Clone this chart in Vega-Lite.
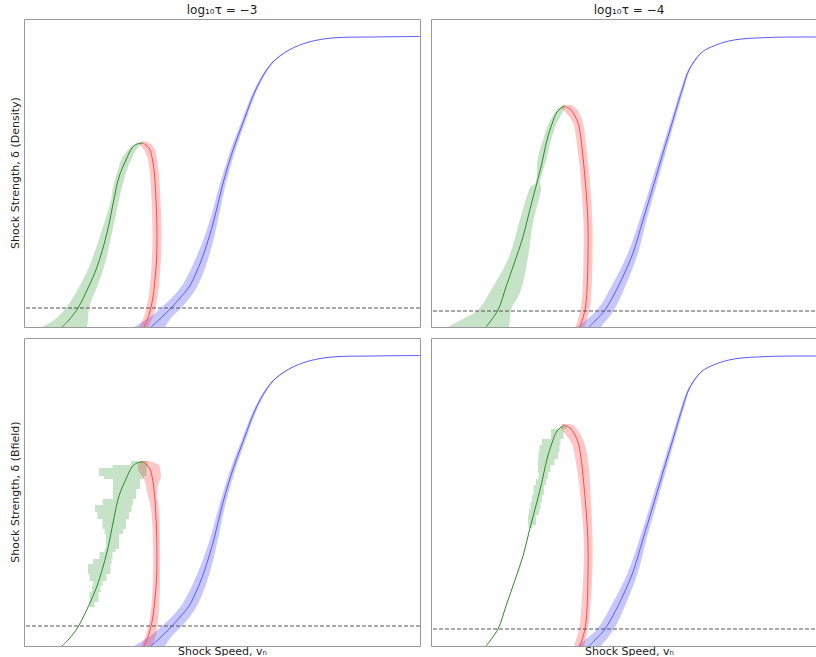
{
  "$schema": "https://vega.github.io/schema/vega-lite/v6.json",
  "padding": {"left": 9, "top": 4, "right": 0, "bottom": 0},
  "background": "white",
  "data": {
    "values": [
      {"t": -3, "q": "Density", "k": "line", "s": "fast", "v": 1.27, "d": 0},
      {"t": -3, "q": "Density", "k": "line", "s": "fast", "v": 1.36, "d": 0.08},
      {"t": -3, "q": "Density", "k": "line", "s": "fast", "v": 1.48, "d": 0.2},
      {"t": -3, "q": "Density", "k": "line", "s": "fast", "v": 1.56, "d": 0.29},
      {"t": -3, "q": "Density", "k": "line", "s": "fast", "v": 1.65, "d": 0.4},
      {"t": -3, "q": "Density", "k": "line", "s": "fast", "v": 1.725, "d": 0.55},
      {"t": -3, "q": "Density", "k": "line", "s": "fast", "v": 1.8, "d": 0.74},
      {"t": -3, "q": "Density", "k": "line", "s": "fast", "v": 1.9, "d": 1.07},
      {"t": -3, "q": "Density", "k": "line", "s": "fast", "v": 1.98, "d": 1.4},
      {"t": -3, "q": "Density", "k": "line", "s": "fast", "v": 2.08, "d": 1.74},
      {"t": -3, "q": "Density", "k": "line", "s": "fast", "v": 2.2, "d": 2.07},
      {"t": -3, "q": "Density", "k": "line", "s": "fast", "v": 2.33, "d": 2.4},
      {"t": -3, "q": "Density", "k": "line", "s": "fast", "v": 2.48, "d": 2.64},
      {"t": -3, "q": "Density", "k": "line", "s": "fast", "v": 2.65, "d": 2.77},
      {"t": -3, "q": "Density", "k": "line", "s": "fast", "v": 2.85, "d": 2.85},
      {"t": -3, "q": "Density", "k": "line", "s": "fast", "v": 3.08, "d": 2.89},
      {"t": -3, "q": "Density", "k": "line", "s": "fast", "v": 3.48, "d": 2.9},
      {"t": -3, "q": "Density", "k": "line", "s": "fast", "v": 3.96, "d": 2.905},
      {"t": -3, "q": "Density", "k": "line", "s": "intermediate", "v": 1.2, "d": 0},
      {"t": -3, "q": "Density", "k": "line", "s": "intermediate", "v": 1.25, "d": 0.12},
      {"t": -3, "q": "Density", "k": "line", "s": "intermediate", "v": 1.285, "d": 0.27},
      {"t": -3, "q": "Density", "k": "line", "s": "intermediate", "v": 1.31, "d": 0.47},
      {"t": -3, "q": "Density", "k": "line", "s": "intermediate", "v": 1.325, "d": 0.67},
      {"t": -3, "q": "Density", "k": "line", "s": "intermediate", "v": 1.33, "d": 0.87},
      {"t": -3, "q": "Density", "k": "line", "s": "intermediate", "v": 1.328, "d": 1.07},
      {"t": -3, "q": "Density", "k": "line", "s": "intermediate", "v": 1.32, "d": 1.27},
      {"t": -3, "q": "Density", "k": "line", "s": "intermediate", "v": 1.305, "d": 1.52},
      {"t": -3, "q": "Density", "k": "line", "s": "intermediate", "v": 1.285, "d": 1.67},
      {"t": -3, "q": "Density", "k": "line", "s": "intermediate", "v": 1.26, "d": 1.77},
      {"t": -3, "q": "Density", "k": "line", "s": "intermediate", "v": 1.23, "d": 1.81},
      {"t": -3, "q": "Density", "k": "line", "s": "intermediate", "v": 1.19, "d": 1.84},
      {"t": -3, "q": "Density", "k": "line", "s": "slow", "v": 0.38, "d": 0},
      {"t": -3, "q": "Density", "k": "line", "s": "slow", "v": 0.45, "d": 0.07},
      {"t": -3, "q": "Density", "k": "line", "s": "slow", "v": 0.54, "d": 0.19},
      {"t": -3, "q": "Density", "k": "line", "s": "slow", "v": 0.645, "d": 0.4},
      {"t": -3, "q": "Density", "k": "line", "s": "slow", "v": 0.73, "d": 0.6},
      {"t": -3, "q": "Density", "k": "line", "s": "slow", "v": 0.83, "d": 0.94},
      {"t": -3, "q": "Density", "k": "line", "s": "slow", "v": 0.9, "d": 1.28},
      {"t": -3, "q": "Density", "k": "line", "s": "slow", "v": 0.95, "d": 1.5},
      {"t": -3, "q": "Density", "k": "line", "s": "slow", "v": 1.02, "d": 1.67},
      {"t": -3, "q": "Density", "k": "line", "s": "slow", "v": 1.08, "d": 1.79},
      {"t": -3, "q": "Density", "k": "line", "s": "slow", "v": 1.13, "d": 1.83},
      {"t": -3, "q": "Density", "k": "line", "s": "slow", "v": 1.19, "d": 1.84},
      {"t": -3, "q": "Density", "k": "band", "s": "fast", "d": 0, "lo": 1.1, "hi": 1.41},
      {"t": -3, "q": "Density", "k": "band", "s": "fast", "d": 0.1, "lo": 1.26, "hi": 1.48},
      {"t": -3, "q": "Density", "k": "band", "s": "fast", "d": 0.2, "lo": 1.38, "hi": 1.58},
      {"t": -3, "q": "Density", "k": "band", "s": "fast", "d": 0.4, "lo": 1.57, "hi": 1.73},
      {"t": -3, "q": "Density", "k": "band", "s": "fast", "d": 0.74, "lo": 1.74, "hi": 1.86},
      {"t": -3, "q": "Density", "k": "band", "s": "fast", "d": 1.07, "lo": 1.86, "hi": 1.94},
      {"t": -3, "q": "Density", "k": "band", "s": "fast", "d": 1.4, "lo": 1.95, "hi": 2.01},
      {"t": -3, "q": "Density", "k": "band", "s": "fast", "d": 1.74, "lo": 2.055, "hi": 2.105},
      {"t": -3, "q": "Density", "k": "band", "s": "fast", "d": 2.07, "lo": 2.18, "hi": 2.22},
      {"t": -3, "q": "Density", "k": "band", "s": "fast", "d": 2.4, "lo": 2.315, "hi": 2.345},
      {"t": -3, "q": "Density", "k": "band", "s": "fast", "d": 2.64, "lo": 2.47, "hi": 2.49},
      {"t": -3, "q": "Density", "k": "band", "s": "fast", "d": 2.77, "lo": 2.645, "hi": 2.655},
      {"t": -3, "q": "Density", "k": "band", "s": "intermediate", "d": 0, "lo": 1.155, "hi": 1.245},
      {"t": -3, "q": "Density", "k": "band", "s": "intermediate", "d": 0.12, "lo": 1.205, "hi": 1.295},
      {"t": -3, "q": "Density", "k": "band", "s": "intermediate", "d": 0.27, "lo": 1.24, "hi": 1.33},
      {"t": -3, "q": "Density", "k": "band", "s": "intermediate", "d": 0.47, "lo": 1.265, "hi": 1.355},
      {"t": -3, "q": "Density", "k": "band", "s": "intermediate", "d": 0.87, "lo": 1.285, "hi": 1.375},
      {"t": -3, "q": "Density", "k": "band", "s": "intermediate", "d": 1.27, "lo": 1.275, "hi": 1.365},
      {"t": -3, "q": "Density", "k": "band", "s": "intermediate", "d": 1.52, "lo": 1.26, "hi": 1.35},
      {"t": -3, "q": "Density", "k": "band", "s": "intermediate", "d": 1.67, "lo": 1.24, "hi": 1.33},
      {"t": -3, "q": "Density", "k": "band", "s": "intermediate", "d": 1.77, "lo": 1.2, "hi": 1.31},
      {"t": -3, "q": "Density", "k": "band", "s": "intermediate", "d": 1.83, "lo": 1.15, "hi": 1.27},
      {"t": -3, "q": "Density", "k": "band", "s": "intermediate", "d": 1.855, "lo": 1.16, "hi": 1.22},
      {"t": -3, "q": "Density", "k": "band", "s": "slow", "d": 0, "lo": 0.18, "hi": 0.63},
      {"t": -3, "q": "Density", "k": "band", "s": "slow", "d": 0.07, "lo": 0.3, "hi": 0.64},
      {"t": -3, "q": "Density", "k": "band", "s": "slow", "d": 0.19, "lo": 0.42, "hi": 0.65},
      {"t": -3, "q": "Density", "k": "band", "s": "slow", "d": 0.4, "lo": 0.55, "hi": 0.73},
      {"t": -3, "q": "Density", "k": "band", "s": "slow", "d": 0.6, "lo": 0.65, "hi": 0.8},
      {"t": -3, "q": "Density", "k": "band", "s": "slow", "d": 0.94, "lo": 0.77, "hi": 0.88},
      {"t": -3, "q": "Density", "k": "band", "s": "slow", "d": 1.27, "lo": 0.87, "hi": 0.95},
      {"t": -3, "q": "Density", "k": "band", "s": "slow", "d": 1.4, "lo": 0.89, "hi": 0.98},
      {"t": -3, "q": "Density", "k": "band", "s": "slow", "d": 1.6, "lo": 0.95, "hi": 1.04},
      {"t": -3, "q": "Density", "k": "band", "s": "slow", "d": 1.67, "lo": 0.97, "hi": 1.07},
      {"t": -3, "q": "Density", "k": "band", "s": "slow", "d": 1.77, "lo": 1.04, "hi": 1.12},
      {"t": -3, "q": "Density", "k": "band", "s": "slow", "d": 1.82, "lo": 1.09, "hi": 1.16},
      {"t": -3, "q": "Density", "k": "band", "s": "slow", "d": 1.84, "lo": 1.14, "hi": 1.19},
      {"t": -3, "q": "Density", "k": "ref", "d": 0.19},

      {"t": -3, "q": "Bfield", "k": "line", "s": "fast", "v": 1.27, "d": 0},
      {"t": -3, "q": "Bfield", "k": "line", "s": "fast", "v": 1.36, "d": 0.08},
      {"t": -3, "q": "Bfield", "k": "line", "s": "fast", "v": 1.48, "d": 0.2},
      {"t": -3, "q": "Bfield", "k": "line", "s": "fast", "v": 1.56, "d": 0.29},
      {"t": -3, "q": "Bfield", "k": "line", "s": "fast", "v": 1.65, "d": 0.4},
      {"t": -3, "q": "Bfield", "k": "line", "s": "fast", "v": 1.725, "d": 0.55},
      {"t": -3, "q": "Bfield", "k": "line", "s": "fast", "v": 1.8, "d": 0.74},
      {"t": -3, "q": "Bfield", "k": "line", "s": "fast", "v": 1.9, "d": 1.07},
      {"t": -3, "q": "Bfield", "k": "line", "s": "fast", "v": 1.98, "d": 1.4},
      {"t": -3, "q": "Bfield", "k": "line", "s": "fast", "v": 2.08, "d": 1.74},
      {"t": -3, "q": "Bfield", "k": "line", "s": "fast", "v": 2.2, "d": 2.07},
      {"t": -3, "q": "Bfield", "k": "line", "s": "fast", "v": 2.33, "d": 2.4},
      {"t": -3, "q": "Bfield", "k": "line", "s": "fast", "v": 2.48, "d": 2.64},
      {"t": -3, "q": "Bfield", "k": "line", "s": "fast", "v": 2.65, "d": 2.77},
      {"t": -3, "q": "Bfield", "k": "line", "s": "fast", "v": 2.85, "d": 2.85},
      {"t": -3, "q": "Bfield", "k": "line", "s": "fast", "v": 3.08, "d": 2.89},
      {"t": -3, "q": "Bfield", "k": "line", "s": "fast", "v": 3.48, "d": 2.9},
      {"t": -3, "q": "Bfield", "k": "line", "s": "fast", "v": 3.96, "d": 2.905},
      {"t": -3, "q": "Bfield", "k": "line", "s": "intermediate", "v": 1.2, "d": 0},
      {"t": -3, "q": "Bfield", "k": "line", "s": "intermediate", "v": 1.25, "d": 0.12},
      {"t": -3, "q": "Bfield", "k": "line", "s": "intermediate", "v": 1.285, "d": 0.27},
      {"t": -3, "q": "Bfield", "k": "line", "s": "intermediate", "v": 1.31, "d": 0.47},
      {"t": -3, "q": "Bfield", "k": "line", "s": "intermediate", "v": 1.325, "d": 0.67},
      {"t": -3, "q": "Bfield", "k": "line", "s": "intermediate", "v": 1.33, "d": 0.87},
      {"t": -3, "q": "Bfield", "k": "line", "s": "intermediate", "v": 1.328, "d": 1.07},
      {"t": -3, "q": "Bfield", "k": "line", "s": "intermediate", "v": 1.32, "d": 1.27},
      {"t": -3, "q": "Bfield", "k": "line", "s": "intermediate", "v": 1.305, "d": 1.52},
      {"t": -3, "q": "Bfield", "k": "line", "s": "intermediate", "v": 1.285, "d": 1.67},
      {"t": -3, "q": "Bfield", "k": "line", "s": "intermediate", "v": 1.26, "d": 1.77},
      {"t": -3, "q": "Bfield", "k": "line", "s": "intermediate", "v": 1.23, "d": 1.81},
      {"t": -3, "q": "Bfield", "k": "line", "s": "intermediate", "v": 1.19, "d": 1.84},
      {"t": -3, "q": "Bfield", "k": "line", "s": "slow", "v": 0.38, "d": 0},
      {"t": -3, "q": "Bfield", "k": "line", "s": "slow", "v": 0.45, "d": 0.07},
      {"t": -3, "q": "Bfield", "k": "line", "s": "slow", "v": 0.54, "d": 0.19},
      {"t": -3, "q": "Bfield", "k": "line", "s": "slow", "v": 0.645, "d": 0.4},
      {"t": -3, "q": "Bfield", "k": "line", "s": "slow", "v": 0.73, "d": 0.6},
      {"t": -3, "q": "Bfield", "k": "line", "s": "slow", "v": 0.83, "d": 0.94},
      {"t": -3, "q": "Bfield", "k": "line", "s": "slow", "v": 0.9, "d": 1.28},
      {"t": -3, "q": "Bfield", "k": "line", "s": "slow", "v": 0.95, "d": 1.5},
      {"t": -3, "q": "Bfield", "k": "line", "s": "slow", "v": 1.02, "d": 1.67},
      {"t": -3, "q": "Bfield", "k": "line", "s": "slow", "v": 1.08, "d": 1.79},
      {"t": -3, "q": "Bfield", "k": "line", "s": "slow", "v": 1.13, "d": 1.83},
      {"t": -3, "q": "Bfield", "k": "line", "s": "slow", "v": 1.19, "d": 1.84},
      {"t": -3, "q": "Bfield", "k": "band", "s": "fast", "d": 0, "lo": 1.1, "hi": 1.41},
      {"t": -3, "q": "Bfield", "k": "band", "s": "fast", "d": 0.1, "lo": 1.26, "hi": 1.48},
      {"t": -3, "q": "Bfield", "k": "band", "s": "fast", "d": 0.2, "lo": 1.38, "hi": 1.58},
      {"t": -3, "q": "Bfield", "k": "band", "s": "fast", "d": 0.4, "lo": 1.57, "hi": 1.73},
      {"t": -3, "q": "Bfield", "k": "band", "s": "fast", "d": 0.74, "lo": 1.74, "hi": 1.86},
      {"t": -3, "q": "Bfield", "k": "band", "s": "fast", "d": 1.07, "lo": 1.86, "hi": 1.94},
      {"t": -3, "q": "Bfield", "k": "band", "s": "fast", "d": 1.4, "lo": 1.95, "hi": 2.01},
      {"t": -3, "q": "Bfield", "k": "band", "s": "fast", "d": 1.74, "lo": 2.055, "hi": 2.105},
      {"t": -3, "q": "Bfield", "k": "band", "s": "fast", "d": 2.07, "lo": 2.18, "hi": 2.22},
      {"t": -3, "q": "Bfield", "k": "band", "s": "fast", "d": 2.4, "lo": 2.315, "hi": 2.345},
      {"t": -3, "q": "Bfield", "k": "band", "s": "fast", "d": 2.64, "lo": 2.47, "hi": 2.49},
      {"t": -3, "q": "Bfield", "k": "band", "s": "fast", "d": 2.77, "lo": 2.645, "hi": 2.655},
      {"t": -3, "q": "Bfield", "k": "band", "s": "intermediate", "d": 0, "lo": 1.17, "hi": 1.28},
      {"t": -3, "q": "Bfield", "k": "band", "s": "intermediate", "d": 0.11, "lo": 1.22, "hi": 1.32},
      {"t": -3, "q": "Bfield", "k": "band", "s": "intermediate", "d": 0.37, "lo": 1.27, "hi": 1.35},
      {"t": -3, "q": "Bfield", "k": "band", "s": "intermediate", "d": 0.71, "lo": 1.29, "hi": 1.36},
      {"t": -3, "q": "Bfield", "k": "band", "s": "intermediate", "d": 1.04, "lo": 1.29, "hi": 1.36},
      {"t": -3, "q": "Bfield", "k": "band", "s": "intermediate", "d": 1.37, "lo": 1.27, "hi": 1.35},
      {"t": -3, "q": "Bfield", "k": "band", "s": "intermediate", "d": 1.54, "lo": 1.23, "hi": 1.33},
      {"t": -3, "q": "Bfield", "k": "band", "s": "intermediate", "d": 1.64, "lo": 1.21, "hi": 1.35},
      {"t": -3, "q": "Bfield", "k": "band", "s": "intermediate", "d": 1.69, "lo": 1.19, "hi": 1.37},
      {"t": -3, "q": "Bfield", "k": "band", "s": "intermediate", "d": 1.74, "lo": 1.15, "hi": 1.365},
      {"t": -3, "q": "Bfield", "k": "band", "s": "intermediate", "d": 1.81, "lo": 1.14, "hi": 1.35},
      {"t": -3, "q": "Bfield", "k": "band", "s": "intermediate", "d": 1.85, "lo": 1.16, "hi": 1.25},
      {"t": -3, "q": "Bfield", "k": "blob", "s": "slow", "d": 0.39, "lo": 0.66, "hi": 0.68},
      {"t": -3, "q": "Bfield", "k": "blob", "s": "slow", "d": 0.44, "lo": 0.65, "hi": 0.73},
      {"t": -3, "q": "Bfield", "k": "blob", "s": "slow", "d": 0.54, "lo": 0.66, "hi": 0.76},
      {"t": -3, "q": "Bfield", "k": "blob", "s": "slow", "d": 0.6, "lo": 0.7, "hi": 0.77},
      {"t": -3, "q": "Bfield", "k": "blob", "s": "slow", "d": 0.65, "lo": 0.68, "hi": 0.8},
      {"t": -3, "q": "Bfield", "k": "blob", "s": "slow", "d": 0.72, "lo": 0.63, "hi": 0.85},
      {"t": -3, "q": "Bfield", "k": "blob", "s": "slow", "d": 0.82, "lo": 0.65, "hi": 0.88},
      {"t": -3, "q": "Bfield", "k": "blob", "s": "slow", "d": 0.87, "lo": 0.73, "hi": 0.87},
      {"t": -3, "q": "Bfield", "k": "blob", "s": "slow", "d": 0.94, "lo": 0.78, "hi": 0.9},
      {"t": -3, "q": "Bfield", "k": "blob", "s": "slow", "d": 0.97, "lo": 0.83, "hi": 0.93},
      {"t": -3, "q": "Bfield", "k": "blob", "s": "slow", "d": 1.12, "lo": 0.81, "hi": 0.97},
      {"t": -3, "q": "Bfield", "k": "blob", "s": "slow", "d": 1.17, "lo": 0.8, "hi": 1.01},
      {"t": -3, "q": "Bfield", "k": "blob", "s": "slow", "d": 1.27, "lo": 0.77, "hi": 1.03},
      {"t": -3, "q": "Bfield", "k": "blob", "s": "slow", "d": 1.34, "lo": 0.7, "hi": 1.07},
      {"t": -3, "q": "Bfield", "k": "blob", "s": "slow", "d": 1.41, "lo": 0.72, "hi": 1.08},
      {"t": -3, "q": "Bfield", "k": "blob", "s": "slow", "d": 1.47, "lo": 0.85, "hi": 1.1},
      {"t": -3, "q": "Bfield", "k": "blob", "s": "slow", "d": 1.57, "lo": 0.93, "hi": 1.14},
      {"t": -3, "q": "Bfield", "k": "blob", "s": "slow", "d": 1.67, "lo": 0.85, "hi": 1.18},
      {"t": -3, "q": "Bfield", "k": "blob", "s": "slow", "d": 1.7, "lo": 0.75, "hi": 1.22},
      {"t": -3, "q": "Bfield", "k": "blob", "s": "slow", "d": 1.78, "lo": 0.75, "hi": 1.23},
      {"t": -3, "q": "Bfield", "k": "blob", "s": "slow", "d": 1.81, "lo": 1.02, "hi": 1.24},
      {"t": -3, "q": "Bfield", "k": "blob", "s": "slow", "d": 1.85, "lo": 1.12, "hi": 1.23},
      {"t": -3, "q": "Bfield", "k": "ref", "d": 0.2},

      {"t": -4, "q": "Density", "k": "line", "s": "fast", "v": 1.58, "d": 0},
      {"t": -4, "q": "Density", "k": "line", "s": "fast", "v": 1.65, "d": 0.07},
      {"t": -4, "q": "Density", "k": "line", "s": "fast", "v": 1.74, "d": 0.17},
      {"t": -4, "q": "Density", "k": "line", "s": "fast", "v": 1.87, "d": 0.4},
      {"t": -4, "q": "Density", "k": "line", "s": "fast", "v": 1.94, "d": 0.55},
      {"t": -4, "q": "Density", "k": "line", "s": "fast", "v": 2.02, "d": 0.74},
      {"t": -4, "q": "Density", "k": "line", "s": "fast", "v": 2.12, "d": 1.07},
      {"t": -4, "q": "Density", "k": "line", "s": "fast", "v": 2.22, "d": 1.4},
      {"t": -4, "q": "Density", "k": "line", "s": "fast", "v": 2.32, "d": 1.74},
      {"t": -4, "q": "Density", "k": "line", "s": "fast", "v": 2.42, "d": 2.07},
      {"t": -4, "q": "Density", "k": "line", "s": "fast", "v": 2.52, "d": 2.4},
      {"t": -4, "q": "Density", "k": "line", "s": "fast", "v": 2.58, "d": 2.57},
      {"t": -4, "q": "Density", "k": "line", "s": "fast", "v": 2.7, "d": 2.74},
      {"t": -4, "q": "Density", "k": "line", "s": "fast", "v": 2.85, "d": 2.82},
      {"t": -4, "q": "Density", "k": "line", "s": "fast", "v": 3.03, "d": 2.87},
      {"t": -4, "q": "Density", "k": "line", "s": "fast", "v": 3.37, "d": 2.895},
      {"t": -4, "q": "Density", "k": "line", "s": "fast", "v": 3.96, "d": 2.9},
      {"t": -4, "q": "Density", "k": "line", "s": "intermediate", "v": 1.49, "d": 0},
      {"t": -4, "q": "Density", "k": "line", "s": "intermediate", "v": 1.54, "d": 0.17},
      {"t": -4, "q": "Density", "k": "line", "s": "intermediate", "v": 1.56, "d": 0.37},
      {"t": -4, "q": "Density", "k": "line", "s": "intermediate", "v": 1.57, "d": 0.7},
      {"t": -4, "q": "Density", "k": "line", "s": "intermediate", "v": 1.57, "d": 1.04},
      {"t": -4, "q": "Density", "k": "line", "s": "intermediate", "v": 1.55, "d": 1.37},
      {"t": -4, "q": "Density", "k": "line", "s": "intermediate", "v": 1.52, "d": 1.7},
      {"t": -4, "q": "Density", "k": "line", "s": "intermediate", "v": 1.5, "d": 1.88},
      {"t": -4, "q": "Density", "k": "line", "s": "intermediate", "v": 1.47, "d": 2.04},
      {"t": -4, "q": "Density", "k": "line", "s": "intermediate", "v": 1.4, "d": 2.17},
      {"t": -4, "q": "Density", "k": "line", "s": "intermediate", "v": 1.33, "d": 2.21},
      {"t": -4, "q": "Density", "k": "line", "s": "slow", "v": 0.55, "d": 0},
      {"t": -4, "q": "Density", "k": "line", "s": "slow", "v": 0.67, "d": 0.17},
      {"t": -4, "q": "Density", "k": "line", "s": "slow", "v": 0.75, "d": 0.4},
      {"t": -4, "q": "Density", "k": "line", "s": "slow", "v": 0.84, "d": 0.66},
      {"t": -4, "q": "Density", "k": "line", "s": "slow", "v": 0.92, "d": 0.9},
      {"t": -4, "q": "Density", "k": "line", "s": "slow", "v": 0.98, "d": 1.14},
      {"t": -4, "q": "Density", "k": "line", "s": "slow", "v": 1.04, "d": 1.37},
      {"t": -4, "q": "Density", "k": "line", "s": "slow", "v": 1.1, "d": 1.6},
      {"t": -4, "q": "Density", "k": "line", "s": "slow", "v": 1.16, "d": 1.87},
      {"t": -4, "q": "Density", "k": "line", "s": "slow", "v": 1.21, "d": 2.03},
      {"t": -4, "q": "Density", "k": "line", "s": "slow", "v": 1.26, "d": 2.15},
      {"t": -4, "q": "Density", "k": "line", "s": "slow", "v": 1.33, "d": 2.21},
      {"t": -4, "q": "Density", "k": "band", "s": "fast", "d": 0, "lo": 1.46, "hi": 1.7},
      {"t": -4, "q": "Density", "k": "band", "s": "fast", "d": 0.17, "lo": 1.66, "hi": 1.83},
      {"t": -4, "q": "Density", "k": "band", "s": "fast", "d": 0.4, "lo": 1.8, "hi": 1.94},
      {"t": -4, "q": "Density", "k": "band", "s": "fast", "d": 0.74, "lo": 1.97, "hi": 2.07},
      {"t": -4, "q": "Density", "k": "band", "s": "fast", "d": 1.07, "lo": 2.085, "hi": 2.155},
      {"t": -4, "q": "Density", "k": "band", "s": "fast", "d": 1.4, "lo": 2.19, "hi": 2.25},
      {"t": -4, "q": "Density", "k": "band", "s": "fast", "d": 1.74, "lo": 2.295, "hi": 2.345},
      {"t": -4, "q": "Density", "k": "band", "s": "fast", "d": 2.07, "lo": 2.4, "hi": 2.44},
      {"t": -4, "q": "Density", "k": "band", "s": "fast", "d": 2.4, "lo": 2.505, "hi": 2.535},
      {"t": -4, "q": "Density", "k": "band", "s": "fast", "d": 2.57, "lo": 2.57, "hi": 2.59},
      {"t": -4, "q": "Density", "k": "band", "s": "fast", "d": 2.74, "lo": 2.695, "hi": 2.705},
      {"t": -4, "q": "Density", "k": "band", "s": "intermediate", "d": 0, "lo": 1.445, "hi": 1.535},
      {"t": -4, "q": "Density", "k": "band", "s": "intermediate", "d": 0.17, "lo": 1.495, "hi": 1.585},
      {"t": -4, "q": "Density", "k": "band", "s": "intermediate", "d": 0.37, "lo": 1.515, "hi": 1.605},
      {"t": -4, "q": "Density", "k": "band", "s": "intermediate", "d": 0.7, "lo": 1.525, "hi": 1.615},
      {"t": -4, "q": "Density", "k": "band", "s": "intermediate", "d": 1.04, "lo": 1.525, "hi": 1.615},
      {"t": -4, "q": "Density", "k": "band", "s": "intermediate", "d": 1.37, "lo": 1.505, "hi": 1.595},
      {"t": -4, "q": "Density", "k": "band", "s": "intermediate", "d": 1.7, "lo": 1.475, "hi": 1.565},
      {"t": -4, "q": "Density", "k": "band", "s": "intermediate", "d": 2.04, "lo": 1.42, "hi": 1.52},
      {"t": -4, "q": "Density", "k": "band", "s": "intermediate", "d": 2.12, "lo": 1.37, "hi": 1.49},
      {"t": -4, "q": "Density", "k": "band", "s": "intermediate", "d": 2.19, "lo": 1.31, "hi": 1.45},
      {"t": -4, "q": "Density", "k": "band", "s": "intermediate", "d": 2.22, "lo": 1.32, "hi": 1.4},
      {"t": -4, "q": "Density", "k": "band", "s": "slow", "d": 0, "lo": 0.17, "hi": 0.78},
      {"t": -4, "q": "Density", "k": "band", "s": "slow", "d": 0.07, "lo": 0.3, "hi": 0.79},
      {"t": -4, "q": "Density", "k": "band", "s": "slow", "d": 0.17, "lo": 0.47, "hi": 0.8},
      {"t": -4, "q": "Density", "k": "band", "s": "slow", "d": 0.37, "lo": 0.6, "hi": 0.9},
      {"t": -4, "q": "Density", "k": "band", "s": "slow", "d": 0.7, "lo": 0.78, "hi": 0.97},
      {"t": -4, "q": "Density", "k": "band", "s": "slow", "d": 1.04, "lo": 0.88, "hi": 1.02},
      {"t": -4, "q": "Density", "k": "band", "s": "slow", "d": 1.37, "lo": 0.98, "hi": 1.1},
      {"t": -4, "q": "Density", "k": "band", "s": "slow", "d": 1.41, "lo": 1.0, "hi": 1.1},
      {"t": -4, "q": "Density", "k": "band", "s": "slow", "d": 1.43, "lo": 1.04, "hi": 1.09},
      {"t": -4, "q": "Density", "k": "band", "s": "slow", "d": 1.7, "lo": 1.07, "hi": 1.16},
      {"t": -4, "q": "Density", "k": "band", "s": "slow", "d": 1.87, "lo": 1.12, "hi": 1.2},
      {"t": -4, "q": "Density", "k": "band", "s": "slow", "d": 2.04, "lo": 1.18, "hi": 1.26},
      {"t": -4, "q": "Density", "k": "band", "s": "slow", "d": 2.17, "lo": 1.26, "hi": 1.33},
      {"t": -4, "q": "Density", "k": "band", "s": "slow", "d": 2.21, "lo": 1.3, "hi": 1.35},
      {"t": -4, "q": "Density", "k": "ref", "d": 0.16},

      {"t": -4, "q": "Bfield", "k": "line", "s": "fast", "v": 1.58, "d": 0},
      {"t": -4, "q": "Bfield", "k": "line", "s": "fast", "v": 1.65, "d": 0.07},
      {"t": -4, "q": "Bfield", "k": "line", "s": "fast", "v": 1.74, "d": 0.17},
      {"t": -4, "q": "Bfield", "k": "line", "s": "fast", "v": 1.87, "d": 0.4},
      {"t": -4, "q": "Bfield", "k": "line", "s": "fast", "v": 1.94, "d": 0.55},
      {"t": -4, "q": "Bfield", "k": "line", "s": "fast", "v": 2.02, "d": 0.74},
      {"t": -4, "q": "Bfield", "k": "line", "s": "fast", "v": 2.12, "d": 1.07},
      {"t": -4, "q": "Bfield", "k": "line", "s": "fast", "v": 2.22, "d": 1.4},
      {"t": -4, "q": "Bfield", "k": "line", "s": "fast", "v": 2.32, "d": 1.74},
      {"t": -4, "q": "Bfield", "k": "line", "s": "fast", "v": 2.42, "d": 2.07},
      {"t": -4, "q": "Bfield", "k": "line", "s": "fast", "v": 2.52, "d": 2.4},
      {"t": -4, "q": "Bfield", "k": "line", "s": "fast", "v": 2.58, "d": 2.57},
      {"t": -4, "q": "Bfield", "k": "line", "s": "fast", "v": 2.7, "d": 2.74},
      {"t": -4, "q": "Bfield", "k": "line", "s": "fast", "v": 2.85, "d": 2.82},
      {"t": -4, "q": "Bfield", "k": "line", "s": "fast", "v": 3.03, "d": 2.87},
      {"t": -4, "q": "Bfield", "k": "line", "s": "fast", "v": 3.37, "d": 2.895},
      {"t": -4, "q": "Bfield", "k": "line", "s": "fast", "v": 3.96, "d": 2.9},
      {"t": -4, "q": "Bfield", "k": "line", "s": "intermediate", "v": 1.49, "d": 0},
      {"t": -4, "q": "Bfield", "k": "line", "s": "intermediate", "v": 1.54, "d": 0.17},
      {"t": -4, "q": "Bfield", "k": "line", "s": "intermediate", "v": 1.56, "d": 0.37},
      {"t": -4, "q": "Bfield", "k": "line", "s": "intermediate", "v": 1.57, "d": 0.7},
      {"t": -4, "q": "Bfield", "k": "line", "s": "intermediate", "v": 1.57, "d": 1.04},
      {"t": -4, "q": "Bfield", "k": "line", "s": "intermediate", "v": 1.55, "d": 1.37},
      {"t": -4, "q": "Bfield", "k": "line", "s": "intermediate", "v": 1.52, "d": 1.7},
      {"t": -4, "q": "Bfield", "k": "line", "s": "intermediate", "v": 1.5, "d": 1.88},
      {"t": -4, "q": "Bfield", "k": "line", "s": "intermediate", "v": 1.47, "d": 2.04},
      {"t": -4, "q": "Bfield", "k": "line", "s": "intermediate", "v": 1.4, "d": 2.17},
      {"t": -4, "q": "Bfield", "k": "line", "s": "intermediate", "v": 1.33, "d": 2.21},
      {"t": -4, "q": "Bfield", "k": "line", "s": "slow", "v": 0.55, "d": 0},
      {"t": -4, "q": "Bfield", "k": "line", "s": "slow", "v": 0.67, "d": 0.17},
      {"t": -4, "q": "Bfield", "k": "line", "s": "slow", "v": 0.75, "d": 0.4},
      {"t": -4, "q": "Bfield", "k": "line", "s": "slow", "v": 0.84, "d": 0.66},
      {"t": -4, "q": "Bfield", "k": "line", "s": "slow", "v": 0.92, "d": 0.9},
      {"t": -4, "q": "Bfield", "k": "line", "s": "slow", "v": 0.98, "d": 1.14},
      {"t": -4, "q": "Bfield", "k": "line", "s": "slow", "v": 1.04, "d": 1.37},
      {"t": -4, "q": "Bfield", "k": "line", "s": "slow", "v": 1.1, "d": 1.6},
      {"t": -4, "q": "Bfield", "k": "line", "s": "slow", "v": 1.16, "d": 1.87},
      {"t": -4, "q": "Bfield", "k": "line", "s": "slow", "v": 1.21, "d": 2.03},
      {"t": -4, "q": "Bfield", "k": "line", "s": "slow", "v": 1.26, "d": 2.15},
      {"t": -4, "q": "Bfield", "k": "line", "s": "slow", "v": 1.33, "d": 2.21},
      {"t": -4, "q": "Bfield", "k": "band", "s": "fast", "d": 0, "lo": 1.46, "hi": 1.7},
      {"t": -4, "q": "Bfield", "k": "band", "s": "fast", "d": 0.17, "lo": 1.66, "hi": 1.83},
      {"t": -4, "q": "Bfield", "k": "band", "s": "fast", "d": 0.4, "lo": 1.8, "hi": 1.94},
      {"t": -4, "q": "Bfield", "k": "band", "s": "fast", "d": 0.74, "lo": 1.97, "hi": 2.07},
      {"t": -4, "q": "Bfield", "k": "band", "s": "fast", "d": 1.07, "lo": 2.085, "hi": 2.155},
      {"t": -4, "q": "Bfield", "k": "band", "s": "fast", "d": 1.4, "lo": 2.19, "hi": 2.25},
      {"t": -4, "q": "Bfield", "k": "band", "s": "fast", "d": 1.74, "lo": 2.295, "hi": 2.345},
      {"t": -4, "q": "Bfield", "k": "band", "s": "fast", "d": 2.07, "lo": 2.4, "hi": 2.44},
      {"t": -4, "q": "Bfield", "k": "band", "s": "fast", "d": 2.4, "lo": 2.505, "hi": 2.535},
      {"t": -4, "q": "Bfield", "k": "band", "s": "fast", "d": 2.57, "lo": 2.57, "hi": 2.59},
      {"t": -4, "q": "Bfield", "k": "band", "s": "fast", "d": 2.74, "lo": 2.695, "hi": 2.705},
      {"t": -4, "q": "Bfield", "k": "band", "s": "intermediate", "d": 0, "lo": 1.43, "hi": 1.53},
      {"t": -4, "q": "Bfield", "k": "band", "s": "intermediate", "d": 0.17, "lo": 1.48, "hi": 1.57},
      {"t": -4, "q": "Bfield", "k": "band", "s": "intermediate", "d": 0.41, "lo": 1.505, "hi": 1.595},
      {"t": -4, "q": "Bfield", "k": "band", "s": "intermediate", "d": 0.77, "lo": 1.525, "hi": 1.615},
      {"t": -4, "q": "Bfield", "k": "band", "s": "intermediate", "d": 1.11, "lo": 1.525, "hi": 1.615},
      {"t": -4, "q": "Bfield", "k": "band", "s": "intermediate", "d": 1.44, "lo": 1.5, "hi": 1.6},
      {"t": -4, "q": "Bfield", "k": "band", "s": "intermediate", "d": 1.77, "lo": 1.46, "hi": 1.58},
      {"t": -4, "q": "Bfield", "k": "band", "s": "intermediate", "d": 2.04, "lo": 1.4, "hi": 1.53},
      {"t": -4, "q": "Bfield", "k": "band", "s": "intermediate", "d": 2.18, "lo": 1.3, "hi": 1.45},
      {"t": -4, "q": "Bfield", "k": "band", "s": "intermediate", "d": 2.22, "lo": 1.31, "hi": 1.4},
      {"t": -4, "q": "Bfield", "k": "blob", "s": "slow", "d": 1.18, "lo": 0.98, "hi": 1.0},
      {"t": -4, "q": "Bfield", "k": "blob", "s": "slow", "d": 1.21, "lo": 0.97, "hi": 1.03},
      {"t": -4, "q": "Bfield", "k": "blob", "s": "slow", "d": 1.31, "lo": 0.97, "hi": 1.07},
      {"t": -4, "q": "Bfield", "k": "blob", "s": "slow", "d": 1.37, "lo": 0.99, "hi": 1.09},
      {"t": -4, "q": "Bfield", "k": "blob", "s": "slow", "d": 1.44, "lo": 1.0, "hi": 1.1},
      {"t": -4, "q": "Bfield", "k": "blob", "s": "slow", "d": 1.51, "lo": 1.02, "hi": 1.12},
      {"t": -4, "q": "Bfield", "k": "blob", "s": "slow", "d": 1.61, "lo": 1.03, "hi": 1.14},
      {"t": -4, "q": "Bfield", "k": "blob", "s": "slow", "d": 1.67, "lo": 1.07, "hi": 1.16},
      {"t": -4, "q": "Bfield", "k": "blob", "s": "slow", "d": 1.74, "lo": 1.08, "hi": 1.18},
      {"t": -4, "q": "Bfield", "k": "blob", "s": "slow", "d": 1.81, "lo": 1.06, "hi": 1.21},
      {"t": -4, "q": "Bfield", "k": "blob", "s": "slow", "d": 1.87, "lo": 1.08, "hi": 1.26},
      {"t": -4, "q": "Bfield", "k": "blob", "s": "slow", "d": 1.94, "lo": 1.07, "hi": 1.28},
      {"t": -4, "q": "Bfield", "k": "blob", "s": "slow", "d": 2.01, "lo": 1.1, "hi": 1.29},
      {"t": -4, "q": "Bfield", "k": "blob", "s": "slow", "d": 2.07, "lo": 1.12, "hi": 1.3},
      {"t": -4, "q": "Bfield", "k": "blob", "s": "slow", "d": 2.17, "lo": 1.28, "hi": 1.35},
      {"t": -4, "q": "Bfield", "k": "blob", "s": "slow", "d": 2.2, "lo": 1.31, "hi": 1.36},
      {"t": -4, "q": "Bfield", "k": "ref", "d": 0.17}
    ]
  },
  "transform": [
    {"calculate": "'Shock Strength, δ (' + datum.q + ')'", "as": "row"}
  ],
  "facet": {
    "row": {
      "field": "row",
      "type": "nominal",
      "sort": ["Shock Strength, δ (Density)", "Shock Strength, δ (Bfield)"],
      "header": {
        "title": null,
        "labelOrient": "left",
        "labelAngle": -90,
        "labelPadding": -4
      }
    },
    "column": {
      "field": "t",
      "type": "ordinal",
      "sort": "descending",
      "header": {
        "title": null,
        "labelPadding": 1,
        "labelFontSize": 12,
        "labelExpr": "'log₁₀τ = ' + replace(datum.label, '-', '−')"
      }
    }
  },
  "spacing": {"row": 9, "column": 9},
  "spec": {
    "width": 396,
    "height": 308,
    "layer": [
      {
        "transform": [{"filter": "datum.k === 'band'"}],
        "mark": {"type": "area", "orient": "horizontal", "clip": true, "opacity": 0.22, "interpolate": "catmull-rom"},
        "encoding": {
          "y": {"field": "d", "type": "quantitative", "scale": {"domain": [0, 3.08], "nice": false, "zero": false}, "axis": null},
          "x": {"field": "lo", "type": "quantitative", "scale": {"domain": [0, 3.96], "nice": false, "zero": false}, "title": "Shock Speed, vₙ"},
          "x2": {"field": "hi"},
          "color": {
            "field": "s",
            "type": "nominal",
            "scale": {"domain": ["fast", "intermediate", "slow"], "range": ["#0000ff", "#ff0000", "#008000"]},
            "legend": null
          }
        }
      },
      {
        "transform": [{"filter": "datum.k === 'blob'"}],
        "mark": {"type": "area", "orient": "horizontal", "clip": true, "opacity": 0.22, "interpolate": "step", "color": "#008000"},
        "encoding": {
          "y": {"field": "d", "type": "quantitative", "scale": {"domain": [0, 3.08], "nice": false, "zero": false}, "axis": null},
          "x": {"field": "lo", "type": "quantitative", "scale": {"domain": [0, 3.96], "nice": false, "zero": false}, "title": "Shock Speed, vₙ"},
          "x2": {"field": "hi"}
        }
      },
      {
        "transform": [{"filter": "datum.k === 'line'"}],
        "mark": {"type": "line", "clip": true, "strokeWidth": 1, "interpolate": "catmull-rom"},
        "encoding": {
          "y": {"field": "d", "type": "quantitative", "scale": {"domain": [0, 3.08], "nice": false, "zero": false}, "axis": null},
          "x": {"field": "v", "type": "quantitative", "scale": {"domain": [0, 3.96], "nice": false, "zero": false}, "title": "Shock Speed, vₙ"},
          "order": {"field": "d", "type": "quantitative"},
          "color": {
            "field": "s",
            "type": "nominal",
            "scale": {"domain": ["fast", "intermediate", "slow"], "range": ["#5a5aff", "#ff4a4a", "#2b8a2b"]},
            "legend": null
          }
        }
      },
      {
        "transform": [{"filter": "datum.k === 'ref'"}],
        "mark": {"type": "rule", "strokeDash": [4, 2], "color": "#555555", "strokeWidth": 1},
        "encoding": {
          "y": {"field": "d", "type": "quantitative", "scale": {"domain": [0, 3.08], "nice": false, "zero": false}, "axis": null}
        }
      }
    ],
    "resolve": {"scale": {"color": "independent"}}
  },
  "config": {
    "font": "DejaVu Sans",
    "view": {"stroke": "#999999", "strokeWidth": 1},
    "axis": {
      "labels": false,
      "ticks": false,
      "domain": false,
      "grid": false,
      "titlePadding": -2,
      "titleFont": "DejaVu Sans",
      "titleFontSize": 11,
      "titleFontWeight": "normal",
      "titleColor": "#222222"
    },
    "header": {
      "labelFont": "DejaVu Sans",
      "labelFontSize": 11,
      "labelColor": "#222222"
    }
  }
}
